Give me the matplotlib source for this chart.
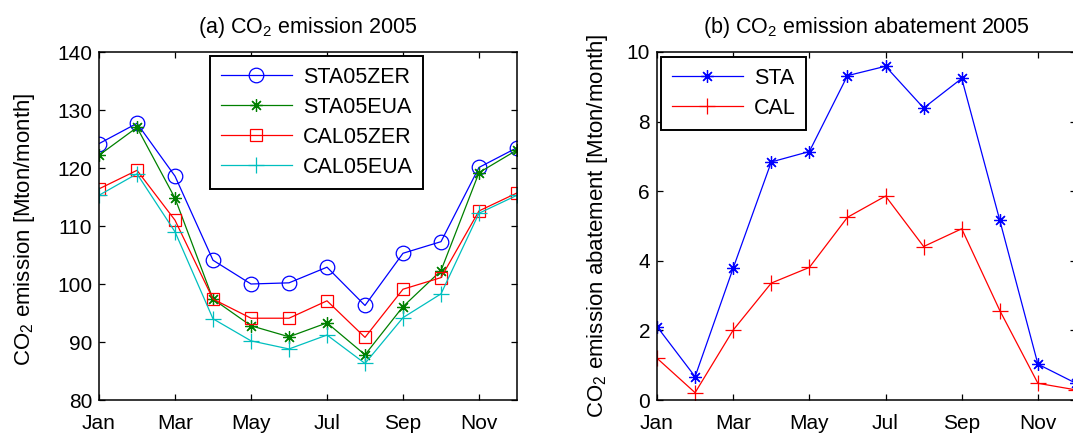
import numpy as np
import matplotlib
matplotlib.use('Agg')
import matplotlib.pyplot as plt

plt.rcParams['font.family'] = ['Liberation Sans', 'DejaVu Sans']
plt.rcParams['mathtext.fontset'] = 'custom'
plt.rcParams['mathtext.rm'] = 'Liberation Sans'
plt.rcParams['mathtext.default'] = 'regular'

# =========================
# data
# =========================
months = np.arange(1, 13)
tick_months = [1, 3, 5, 7, 9, 11]
tick_labels = ['Jan', 'Mar', 'May', 'Jul', 'Sep', 'Nov']

sta05zer = [124.2, 127.7, 118.6, 104.1, 100.0, 100.2, 102.9, 96.3, 105.3, 107.3, 120.1, 123.5]
sta05eua = [122.2, 127.0, 114.8, 97.4, 92.8, 90.9, 93.3, 87.8, 96.1, 102.3, 119.2, 123.1]
cal05zer = [116.4, 119.6, 111.0, 97.4, 94.1, 94.1, 97.1, 90.8, 99.1, 101.1, 112.6, 115.7]
cal05eua = [115.3, 119.0, 109.0, 94.0, 90.2, 88.8, 91.2, 86.3, 94.2, 98.3, 112.2, 115.3]

sta_abate = [2.11, 0.67, 3.79, 6.84, 7.14, 9.32, 9.59, 8.39, 9.24, 5.16, 1.03, 0.48]
cal_abate = [1.20, 0.21, 2.01, 3.36, 3.81, 5.25, 5.86, 4.41, 4.92, 2.57, 0.48, 0.29]

W, H = 1073, 433
fig = plt.figure(figsize=(W / 100, H / 100), dpi=100)

# axes boxes in pixels (left, top, right, bottom)
ax1 = fig.add_axes([99 / W, 1 - 400 / H, 418 / W, 348 / H])
ax2 = fig.add_axes([657 / W, 1 - 400 / H, 419 / W, 348 / H])

asterisk = (8, 2, 0)
lw = 0.9
mw = 0.9

# (a) emission
ax1.plot(months, sta05zer, '-', color='blue', lw=lw, marker='o', ms=10.5,
         mfc='none', mec='blue', mew=mw, label='STA05ZER')
ax1.plot(months, sta05eua, '-', color='green', lw=lw, marker=asterisk, ms=9,
         mec='green', mew=mw, label='STA05EUA')
ax1.plot(months, cal05zer, '-', color='red', lw=lw, marker='s', ms=9,
         mfc='none', mec='red', mew=mw, label='CAL05ZER')
ax1.plot(months, cal05eua, '-', color='c', lw=lw, marker='+', ms=11,
         mec='c', mew=mw, label='CAL05EUA')
ax1.set_ylim(80, 140)
ax1.set_yticks([80, 90, 100, 110, 120, 130, 140])
ax1.set_ylabel('CO$_2$ emission [Mton/month]', fontsize=16)
ax1.yaxis.set_label_coords(-0.148, 0.49)
ax1.set_title('(a) CO$_2$ emission 2005', fontsize=15.5, pad=14)

leg_kw = dict(loc='upper left', bbox_transform=fig.transFigure, fontsize=15.5,
              frameon=True, fancybox=False, edgecolor='black', framealpha=1,
              handlelength=3.3, borderpad=0.5, labelspacing=0.42,
              handletextpad=0.5, borderaxespad=0)
leg1 = ax1.legend(bbox_to_anchor=(210 / W, 1 - 56 / H), **leg_kw)
leg1.get_frame().set_linewidth(1.4)

# (b) abatement
ax2.plot(months, sta_abate, '-', color='blue', lw=lw, marker=asterisk, ms=9,
         mec='blue', mew=mw, label='STA')
ax2.plot(months, cal_abate, '-', color='red', lw=lw, marker='+', ms=11,
         mec='red', mew=mw, label='CAL')
ax2.set_ylim(0, 10)
ax2.set_yticks([0, 2, 4, 6, 8, 10])
ax2.set_ylabel('CO$_2$ emission abatement [Mton/month]', fontsize=16)
ax2.yaxis.set_label_coords(-0.112, 0.5)
ax2.set_title('(b) CO$_2$ emission abatement 2005', fontsize=15.5, pad=14)
leg2 = ax2.legend(bbox_to_anchor=(661 / W, 1 - 57 / H), **leg_kw)
leg2.get_frame().set_linewidth(1.4)

for ax in (ax1, ax2):
    ax.set_xlim(1, 12)
    ax.set_xticks(tick_months)
    ax.set_xticklabels(tick_labels)
    ax.tick_params(direction='in', top=True, right=True, labelsize=15,
                   length=4, width=0.9)
    ax.tick_params(axis='x', pad=10)
    ax.tick_params(axis='y', pad=5)
    for sp in ax.spines.values():
        sp.set_linewidth(1.1)

fig.savefig('out.png', dpi=100)
